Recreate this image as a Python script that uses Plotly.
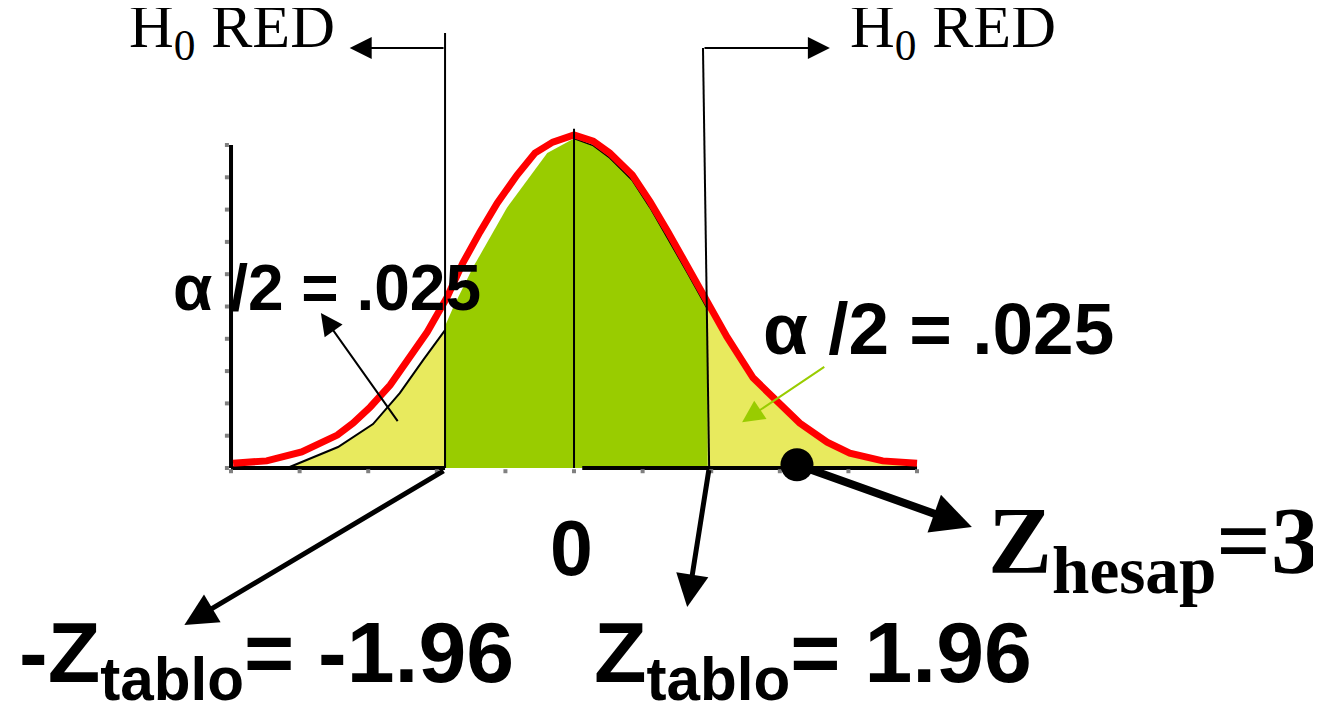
import plotly.graph_objects as go

# ---- data (x in tick units, 0 = centre; y in tick units of the vertical axis)
red_x = [-4.97, -4.48, -3.97, -3.70, -3.45, -3.22, -2.97, -2.68, -2.43, -2.14, -1.85, -1.62, -1.37,
         -1.12, -0.83, -0.57, -0.31, 0.0, 0.28, 0.52, 0.85, 1.11, 1.37, 1.65, 1.94, 2.23, 2.61,
         2.96, 3.29, 3.69, 4.02, 4.50, 5.0]
red_y = [0.15, 0.22, 0.50, 0.74, 1.02, 1.39, 1.89, 2.57, 3.34, 4.21, 5.29, 6.35, 7.31,
         8.20, 9.07, 9.75, 10.09, 10.31, 10.12, 9.75, 9.07, 8.24, 7.31, 6.28, 5.14, 4.06, 2.79,
         2.04, 1.39, 0.80, 0.46, 0.22, 0.15]

left_tail_x = [-4.18, -3.44, -2.93, -2.54, -2.20, -1.88]
left_tail_y = [0.0, 0.65, 1.36, 2.32, 3.34, 4.27]

green_x = [-1.88, -1.88, -1.76, -1.47, -0.98, -0.39, 0.0, 0.28, 0.52, 0.85, 1.11, 1.37, 1.65, 1.95, 1.95]
green_y = [0.0, 4.40, 4.98, 6.22, 8.05, 9.75, 10.20, 9.98, 9.60, 8.90, 8.05, 7.10, 6.05, 4.90, 0.0]

right_tail_x = [1.95, 1.95, 2.23, 2.61, 2.96, 3.29, 3.69, 4.02, 4.50, 5.0]
right_tail_y = [0.0, 5.00, 4.02, 2.76, 2.01, 1.36, 0.78, 0.44, 0.20, 0.12]

tick_x = [-5, -4, -3, -2, -1, 0, 1, 2, 3, 4, 5]
tick_y = [0, 1, 2, 3, 4, 5, 6, 7, 8, 9, 10]

crit_left = -1.88     # drawn position of -Z tablo
crit_right = 1.95     # drawn position of  Z tablo
z_hesap_pos = 3.25    # drawn position of the computed Z
label_crit_left = "-1.96"
label_crit_right = "1.96"
label_hesap = "3"
label_alpha = ".025"

YELLOW = "#e8ea5e"
GREEN = "#99cc00"

fig = go.Figure()

# shaded regions
fig.add_trace(go.Scatter(x=left_tail_x + [left_tail_x[-1]], y=left_tail_y + [0], fill="toself",
                         fillcolor=YELLOW, line=dict(color="black", width=2), mode="lines"))
fig.add_trace(go.Scatter(x=green_x, y=green_y, fill="toself", fillcolor=GREEN,
                         line=dict(width=0), mode="lines"))
fig.add_trace(go.Scatter(x=green_x[6:14], y=green_y[6:14], mode="lines",
                         line=dict(color="black", width=1.5)))
fig.add_trace(go.Scatter(x=right_tail_x + [right_tail_x[-1]], y=right_tail_y + [0], fill="toself",
                         fillcolor=YELLOW, line=dict(width=0), mode="lines"))

# axes of the drawing
fig.add_trace(go.Scatter(x=[tick_x[0], tick_x[0]], y=[0, tick_y[-1]], mode="lines",
                         line=dict(color="black", width=4)))
fig.add_trace(go.Scatter(x=[tick_x[0], crit_left, None, 0.12, tick_x[-1]], y=[0, 0, None, 0, 0],
                         mode="lines", line=dict(color="black", width=4)))
fig.add_trace(go.Scatter(x=tick_x, y=[-0.1] * len(tick_x), mode="markers",
                         marker=dict(symbol="square", size=4, color="#808080")))
fig.add_trace(go.Scatter(x=[tick_x[0] - 0.06] * len(tick_y), y=tick_y, mode="markers",
                         marker=dict(symbol="square", size=4, color="#808080")))

# red curve
fig.add_trace(go.Scatter(x=red_x, y=red_y, mode="lines", line=dict(color="#ff0000", width=7)))

# vertical lines
fig.add_trace(go.Scatter(x=[0, 0], y=[0, 10.5], mode="lines", line=dict(color="black", width=2)))
fig.add_trace(go.Scatter(x=[crit_left, crit_left], y=[0, 13.47], mode="lines",
                         line=dict(color="black", width=2)))
fig.add_trace(go.Scatter(x=[crit_right + 0.02, crit_right - 0.07], y=[0, 13.0], mode="lines",
                         line=dict(color="black", width=2)))

# computed Z dot
fig.add_trace(go.Scatter(x=[z_hesap_pos], y=[0.1], mode="markers",
                         marker=dict(symbol="circle", size=33, color="black")))

ann = []

def arrow(x0, y0, x1, y1, width, size, color="black"):
    ann.append(dict(x=x1, y=y1, ax=x0, ay=y0, xref="x", yref="y", axref="x", ayref="y",
                    showarrow=True, arrowhead=2, arrowwidth=width, arrowsize=size,
                    arrowcolor=color, standoff=0, startstandoff=0, text=" ",
                    font=dict(size=1)))

arrow(crit_left, 13.0, -3.27, 13.0, 2, 2.2)
arrow(crit_right - 0.07, 13.0, 3.73, 13.0, 2, 2.2)
arrow(-2.55, 1.39, -3.69, 4.80, 2, 2.2)
arrow(3.67, 3.16, 2.45, 1.42, 2, 2.2, GREEN)
arrow(crit_right + 0.02, 0.0, 1.65, -4.30, 5, 1.3)
arrow(crit_left, -0.06, -5.68, -4.86, 5, 1.3)
arrow(z_hesap_pos, 0.1, 5.80, -1.83, 8, 1.0)

SANS = "Liberation Sans, Arial, sans-serif"
SERIF = "Liberation Serif, Times New Roman, serif"

def text(x, y, s, size, family, xanchor="center"):
    ann.append(dict(x=x, y=y, xref="x", yref="y", text=s, showarrow=False,
                    font=dict(size=size, family=family, color="black"),
                    xanchor=xanchor, yanchor="middle"))

text(-4.985, 13.55, "H<sub>0</sub> RED", 62, SERIF)
text(5.525, 13.55, "H<sub>0</sub> RED", 62, SERIF)
text(-3.60, 5.57, "<b>α /2 = " + label_alpha + "</b>", 64, SANS)
text(5.31, 4.33, "<b>α /2 = " + label_alpha + "</b>", 73, SANS)
text(-0.03, -2.48, "<b>0</b>", 77, SANS)
text(-4.49, -5.90, "<b>-Z<sub>tablo</sub>= " + label_crit_left + "</b>", 86, SANS)
text(3.48, -5.90, "<b>Z<sub>tablo</sub>= " + label_crit_right + "</b>", 86, SANS)
text(8.45, -2.45, "<b>Z<sub>hesap</sub>=" + label_hesap + "</b>", 96, SERIF)

# page body has an 8px margin: the figure is 1313x700 and its ranges are shifted to match
fig.update_layout(
    width=1313, height=700, margin=dict(l=0, r=0, t=0, b=0),
    paper_bgcolor="white", plot_bgcolor="white", showlegend=False,
    xaxis=dict(range=[-8.251, 10.889], visible=False, fixedrange=True),
    yaxis=dict(range=[-7.43, 14.241], visible=False, fixedrange=True),
    annotations=ann,
)

fig.write_html("out.html", config={"displayModeBar": False})
